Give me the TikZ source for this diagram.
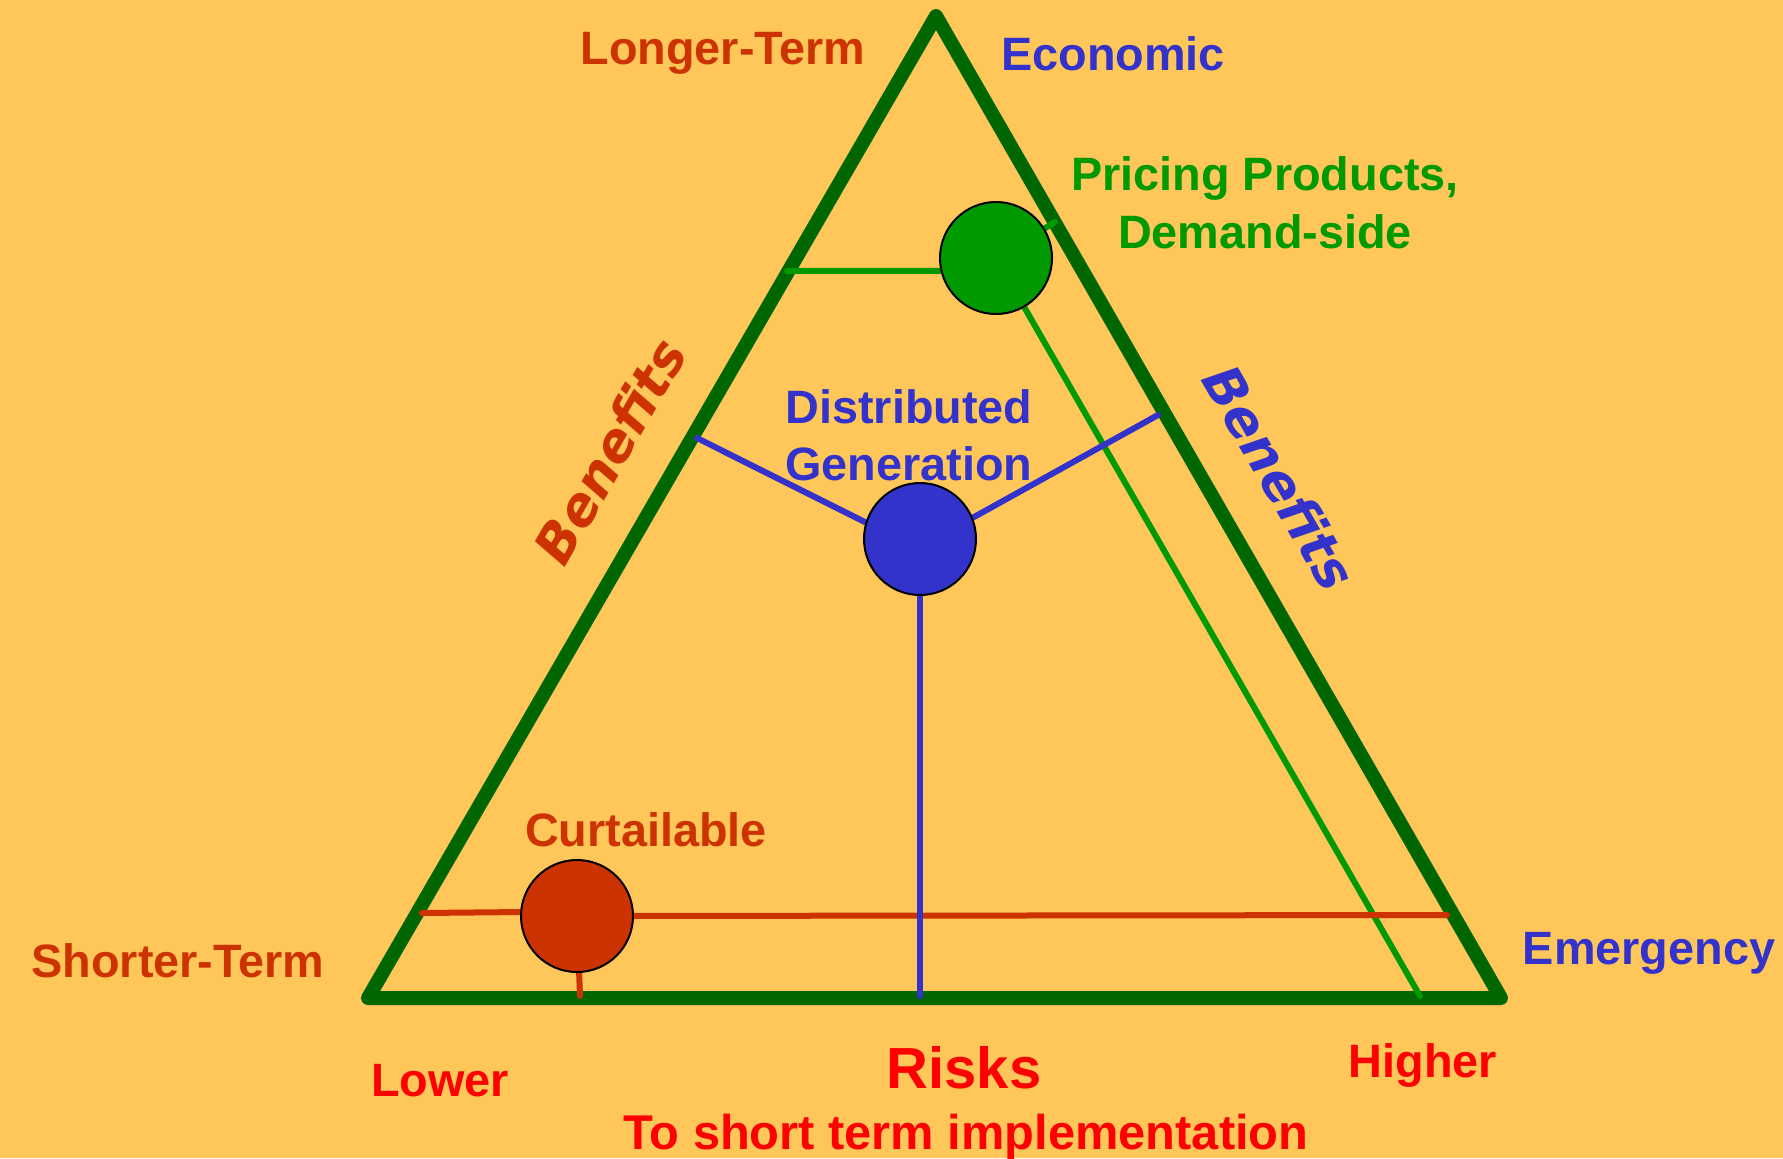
\documentclass[tikz,border=0pt]{standalone}
\usepackage{fontspec}
\setmainfont{Liberation Sans}
\newfontfamily\benfont{DejaVu Sans}
\definecolor{bgc}{HTML}{FFC65A}
\definecolor{dkg}{HTML}{006600}
\definecolor{grn}{HTML}{009900}
\definecolor{blu}{HTML}{3333CC}
\definecolor{orr}{HTML}{CC3300}
\definecolor{rd}{HTML}{FF0000}
\pgfdeclarelayer{bg}
\pgfdeclarelayer{mid}
\pgfsetlayers{bg,mid,main}
\begin{document}
\begin{tikzpicture}[x=0.5pt,y=-0.5pt,
  lbl/.style={font=\fontsize{23.4}{28}\selectfont\bfseries, inner sep=0pt, anchor=base},
  ben/.style={font=\benfont\fontsize{26.5}{32}\selectfont\bfseries\itshape, inner sep=0pt},
  tri/.style={draw=dkg, line width=7pt, line join=round},
  conn/.style={line width=3pt, line cap=round},
  dot/.style={circle, draw=black, line width=1pt, minimum size=56pt, inner sep=0pt}]

\begin{pgfonlayer}{bg}
\fill[bgc] (0,0) rectangle (1783,1158);
\coordinate (A) at (936,16);
\coordinate (BL) at (368,998);
\coordinate (BR) at (1501,998);
\draw[tri] (A) -- (BR) -- (BL) -- cycle;
\end{pgfonlayer}
\useasboundingbox (0,0) rectangle (1783,1158);

\node[dot, fill=grn] (g) at (996,258) {};
\node[dot, fill=blu] (b) at (920,539) {};
\node[dot, fill=orr] (r) at (577,916) {};

\coordinate (gL) at (787,271);
\coordinate (gR) at (1055,222);
\coordinate (gB) at (1420,996);
\coordinate (rL) at (422,913);
\coordinate (rR) at (1447,915);
\coordinate (rB) at (580,996);
\coordinate (bL) at (697,438);
\coordinate (bR) at (1158,415);
\coordinate (bB) at (920,996);

\begin{pgfonlayer}{mid}
\draw[conn, grn] (g.193) -- (gL);
\draw[conn, grn] (g) -- (gR);
\draw[conn, grn] (g) -- (gB);
\draw[conn, orr] (r.176) -- (rL);
\draw[conn, orr] (r) -- (rR);
\draw[conn, orr] (r) -- (rB);
\draw[conn, blu] (b.163) -- (bL);
\draw[conn, blu] (b.22) -- (bR);
\draw[conn, blu] (b) -- (bB);
\end{pgfonlayer}

\node[lbl, orr] (lt) at (723,64) {Longer-Term};
\node[lbl, blu] (ec) at (1113,70) {Economic};
\node[lbl, grn] (pp) at (1265,190) {Pricing Products,};
\node[lbl, grn] (ds) at (1265,248) {Demand-side};
\node[lbl, blu] (dg1) at (909,423) {Distributed};
\node[lbl, blu] (dg2) at (909,480) {Generation};
\node[lbl, orr] (cu) at (646,846) {Curtailable};
\node[lbl, orr] (st) at (178,977) {Shorter-Term};
\node[lbl, blu] (em) at (1649,964) {Emergency};
\node[lbl, rd] (lo) at (440,1096) {Lower};
\node[lbl, rd] (hi) at (1423,1077) {Higher};
\node[lbl, rd, font=\fontsize{29}{34}\selectfont\bfseries] (rk) at (964,1088) {Risks};
\node[lbl, rd, font=\fontsize{24.4}{29}\selectfont\bfseries] (ts) at (966,1149) {To short term implementation};

\node[ben, orr, rotate=60] (bnl) at (610,451) {Benefits};
\node[ben, blu, rotate=-60] (bnr) at (1280,477) {Benefits};
\end{tikzpicture}
\end{document}
